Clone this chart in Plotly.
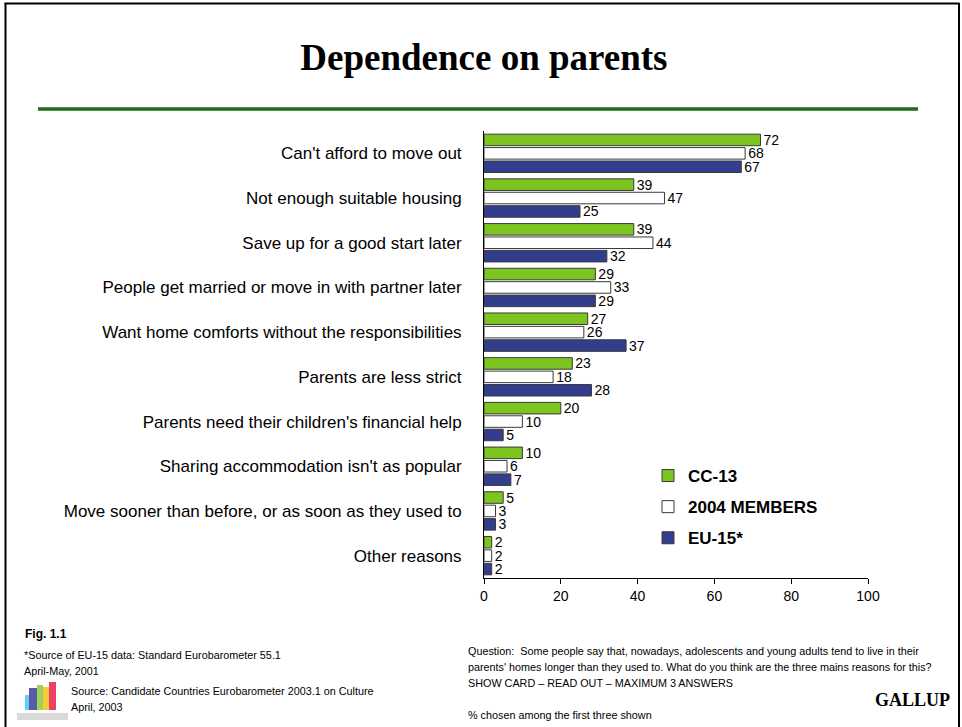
import plotly.graph_objects as go

# Survey answers: reasons young people stay longer in the parental home (%)
reasons = [
    "Can't afford to move out",
    "Not enough suitable housing",
    "Save up for a good start later",
    "People get married or move in with partner later",
    "Want home comforts without the responsibilities",
    "Parents are less strict",
    "Parents need their children's financial help",
    "Sharing accommodation isn't as popular",
    "Move sooner than before, or as soon as they used to",
    "Other reasons",
]
cc13 = [72, 39, 39, 29, 27, 23, 20, 10, 5, 2]
members2004 = [68, 47, 44, 33, 26, 18, 10, 6, 3, 2]
eu15 = [67, 25, 32, 29, 37, 28, 5, 7, 3, 2]
x_ticks = [0, 20, 40, 60, 80, 100]

series = [
    ("CC-13", cc13, "#7CC521"),
    ("2004 MEMBERS", members2004, "#FFFFFF"),
    ("EU-15*", eu15, "#333D8E"),
]

W, H = 962, 727
L, R, T, B = 484, 868, 131, 578
PW, PH = R - L, B - T


def px(x):
    return (x - L) / PW


def py(y):
    return (B - y) / PH


SANS = "Arial, Liberation Sans, sans-serif"
NARROW = "Liberation Sans Narrow, Arial Narrow, Liberation Sans, sans-serif"
SERIF = "Times New Roman, Liberation Serif, serif"

positions = list(range(len(reasons)))
fig = go.Figure()
for i, (name, vals, color) in enumerate(series):
    fig.add_trace(go.Bar(
        name=name,
        y=positions,
        x=vals,
        orientation="h",
        marker=dict(color=color, line=dict(color="#3A3A3A", width=1)),
        text=[str(v) for v in vals],
        textposition="outside",
        textfont=dict(family=SANS, size=14, color="black"),
        constraintext="none",
        cliponaxis=False,
        legendgroup=f"g{i}",
    ))

bounds = [p - 0.5 for p in positions] + [positions[-1] + 0.5]
yrange = [positions[-1] + 0.5, -0.5]

shapes = [
    # page frame
    dict(type="line", xref="paper", yref="paper", x0=px(5.5), x1=px(5.5),
         y0=py(3), y1=py(727), line=dict(color="black", width=2)),
    dict(type="line", xref="paper", yref="paper", x0=px(4.5), x1=px(959.5),
         y0=py(3.5), y1=py(3.5), line=dict(color="black", width=2)),
    dict(type="line", xref="paper", yref="paper", x0=px(959), x1=px(959),
         y0=py(3), y1=py(727), line=dict(color="black", width=2)),
    # green rule under the heading
    dict(type="line", xref="paper", yref="paper", x0=px(38), x1=px(918),
         y0=py(109), y1=py(109), line=dict(color="#1D6A1D", width=3.5)),
]

# small bar-chart logo next to the source note
logo = [
    (25, 29, 695, "#4FC3F0"),
    (29, 37, 688, "#3B3F99"),
    (37, 43, 685, "#8CCB3C"),
    (43, 49, 687, "#F7C21A"),
    (49, 56, 682, "#E8204A"),
]
for x0, x1, top, col in logo:
    shapes.append(dict(type="rect", xref="paper", yref="paper",
                       x0=px(x0), x1=px(x1), y0=py(710), y1=py(top),
                       fillcolor=col, line=dict(width=0), opacity=0.85))
shapes.append(dict(type="rect", xref="paper", yref="paper",
                   x0=px(17), x1=px(68), y0=py(720), y1=py(713),
                   fillcolor="#DADADA", line=dict(width=0)))


def note(text, x, y, size=10.8, family=NARROW, bold=False, anchor="left"):
    return dict(text=f"<b>{text}</b>" if bold else text, xref="paper", yref="paper",
                x=px(x), y=py(y), xanchor=anchor, yanchor="middle", showarrow=False,
                font=dict(family=family, size=size, color="black"))


annotations = [
    note("Fig. 1.1", 23, 634, size=12, family=SANS, bold=True),
    note("*Source of EU-15 data: Standard Eurobarometer 55.1", 22, 655),
    note("April-May, 2001", 22, 671),
    note("Source: Candidate Countries Eurobarometer 2003.1 on Culture", 69, 691),
    note("April, 2003", 69, 707),
    note("Question:  Some people say that, nowadays, adolescents and young adults tend to live in their", 466, 651),
    note("parents' homes longer than they used to. What do you think are the three mains reasons for this?", 466, 667),
    note("SHOW CARD \u2013 READ OUT \u2013 MAXIMUM 3 ANSWERS", 466, 683),
    note("% chosen among the first three shown", 466, 715),
    note("GALLUP", 952, 700, size=18, family=SERIF, bold=True, anchor="right"),
]

fig.update_layout(
    width=W, height=H,
    margin=dict(l=L, r=W - R, t=T, b=H - B, pad=0),
    paper_bgcolor="white", plot_bgcolor="white",
    barmode="group", bargap=0.1, bargroupgap=0.14,
    title=dict(text="<b>Dependence on parents</b>", x=0.503, xref="container",
               y=1 - 57 / H, yref="container", xanchor="center", yanchor="middle",
               font=dict(family=SERIF, size=37, color="black")),
    xaxis=dict(range=[0, 100], tickvals=x_ticks, ticks="outside", ticklen=5,
               tickcolor="black", showline=True, linecolor="black", linewidth=1,
               showgrid=False, zeroline=False,
               tickfont=dict(family=SANS, size=14, color="black")),
    yaxis=dict(range=yrange, tickmode="array", tickvals=positions, ticktext=reasons,
               ticks="", showline=True, linecolor="black", linewidth=1,
               showgrid=False, zeroline=False, ticklabelstandoff=18,
               tickfont=dict(family=SANS, size=17, color="black")),
    yaxis2=dict(range=yrange, overlaying="y", side="left", anchor="x",
                tickmode="array", tickvals=bounds, ticks="outside", ticklen=6,
                tickcolor="black", showticklabels=False, showgrid=False,
                zeroline=False, showline=False),
    legend=dict(x=px(648), y=py(458), xanchor="left", yanchor="top",
                bgcolor="rgba(0,0,0,0)", tracegroupgap=6,
                font=dict(family=SANS, size=17, color="black", weight="bold")),
    showlegend=True,
    shapes=shapes,
    annotations=annotations,
)

fig.write_html("out.html")
